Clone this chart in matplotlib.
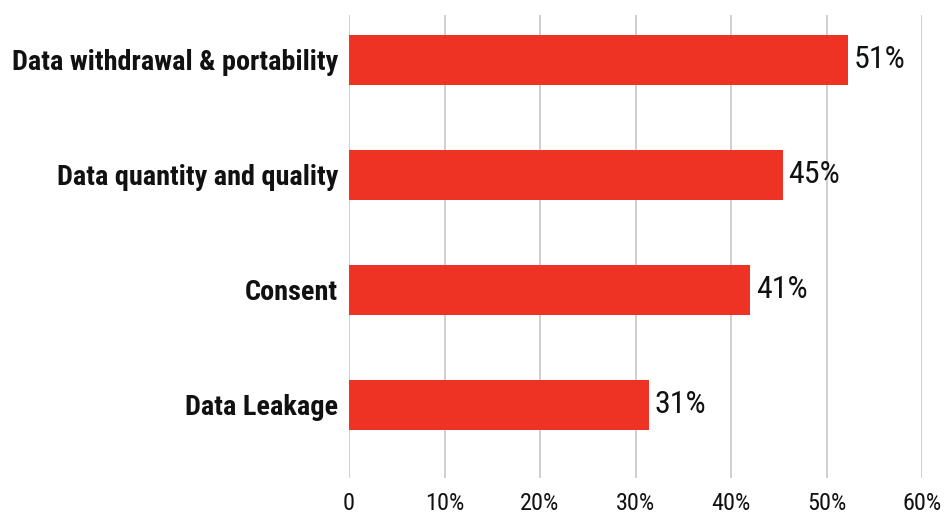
import matplotlib
matplotlib.use("Agg")
import matplotlib.pyplot as plt
from matplotlib import font_manager as fm

# data
categories = ["Data withdrawal & portability", "Data quantity and quality", "Consent", "Data Leakage"]
values = [52.2, 45.4, 42.0, 31.4]
value_labels = ["51%", "45%", "41%", "31%"]
ticks = [0, 10, 20, 30, 40, 50, 60]
tick_labels = ["0", "10%", "20%", "30%", "40%", "50%", "60%"]

names = set(f.name for f in fm.fontManager.ttflist)
fam = "DejaVu Sans"
for cand in ["Roboto Condensed", "Liberation Sans Narrow", "DejaVu Sans Condensed"]:
    if cand in names:
        fam = cand
        break

fig = plt.figure(figsize=(9.5, 5.14), dpi=100)
ax = fig.add_axes([349 / 950, 1 - 478 / 514, 573 / 950, 463 / 514])

y = list(range(len(categories)))
ax.barh(y, values, height=0.435, color="#ee3224", zorder=2)

for i in y:
    ax.text(values[i] + 0.6, i, value_labels[i], va="center", ha="left",
            fontsize=23, family=fam, color="#111111")

ax.set_xlim(0, 60)
ax.set_ylim(3.635, -0.39)
ax.set_xticks(ticks)
ax.set_xticklabels(tick_labels, family=fam, fontsize=17.5, color="#111111")
ax.set_yticks(y)
ax.set_yticklabels(categories, family=fam, fontsize=20.3, fontweight="bold", color="#111111")
ax.tick_params(axis="both", length=0)
ax.tick_params(axis="x", pad=10)
ax.tick_params(axis="y", pad=8)
ax.grid(axis="x", color="#cccccc", linewidth=1.3, zorder=0)
for s in ax.spines.values():
    s.set_visible(False)

fig.savefig("out.png", dpi=100)
